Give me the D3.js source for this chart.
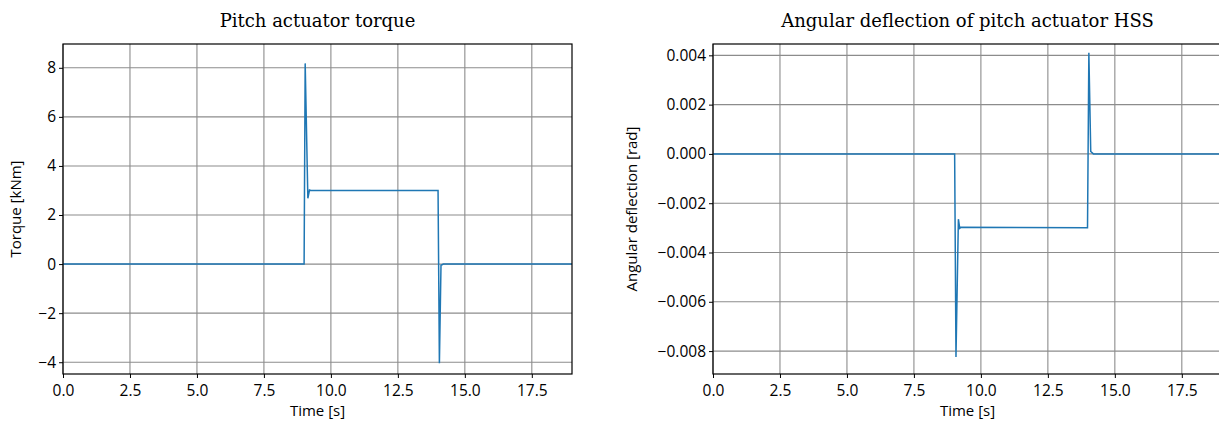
<!DOCTYPE html>
<html>
<head>
<meta charset="utf-8">
<script src="https://cdn.jsdelivr.net/npm/d3@7"></script>
<style>
  body { margin: 0; background: #fff; }
  .tick text { font-family: "Open Sans", sans-serif; font-size: 15.5px; fill: #000; }
  .title { font-family: "DejaVu Serif", serif; font-size: 18px; }
  .label { font-family: "Open Sans", sans-serif; font-size: 15px; }
</style>
</head>
<body>
<div class="chart"></div>
<script>
// torque response [kNm]
const torqueTime = [0, 9.0, 9.04, 9.14, 9.2, 9.25, 14.0, 14.05, 14.11, 14.2, 19];
const torqueVals = [0, 0, 8.18, 2.68, 3.02, 3.0, 3.0, -4.04, -0.05, 0, 0];

// angular deflection of HSS [rad]
const deflTime = [0, 9.02, 9.07, 9.16, 9.21, 9.25, 13.98, 14.03, 14.1, 14.2, 19];
const deflVals = [0, 0, -0.00824, -0.00265, -0.00302, -0.00298, -0.003, 0.0041, 0.0001, 0, 0];

const xTicks = [0, 2.5, 5, 7.5, 10, 12.5, 15, 17.5];
const torqueTicks = [-4, -2, 0, 2, 4, 6, 8];
const deflTicks = [-0.008, -0.006, -0.004, -0.002, 0, 0.002, 0.004];

const W = 1219, H = 421;
const svg = d3.select(".chart").append("svg")
    .attr("width", W)
    .attr("height", H);

const fmtMinus = s => s.replace("-", "\u2212");

function panel(opts) {
    const x = d3.scaleLinear().domain([0, 19]).range([opts.left, opts.left + 509]);
    const y = d3.scaleLinear().domain(opts.ydom).range([374, 44]);
    const g = svg.append("g");

    // grid
    g.append("g").selectAll("line")
        .data(xTicks)
        .join("line")
        .attr("x1", d => x(d)).attr("x2", d => x(d))
        .attr("y1", 44).attr("y2", 374)
        .attr("stroke", "#8c8c8c").attr("stroke-width", 1.1);
    g.append("g").selectAll("line")
        .data(opts.yticks)
        .join("line")
        .attr("x1", opts.left).attr("x2", opts.left + 509)
        .attr("y1", d => y(d)).attr("y2", d => y(d))
        .attr("stroke", "#8c8c8c").attr("stroke-width", 1.1);

    // series
    const pts = d3.zip(opts.t, opts.v);
    g.append("path")
        .datum(pts)
        .attr("fill", "none")
        .attr("stroke", "#1f77b4")
        .attr("stroke-width", 1.5)
        .attr("d", d3.line().x(d => x(d[0])).y(d => y(d[1])));

    // axes
    const xa = g.append("g").attr("transform", "translate(0,374)")
        .call(d3.axisBottom(x).tickValues(xTicks).tickFormat(d3.format(".1f")).tickSizeOuter(0).tickSize(4));
    xa.selectAll(".tick text").attr("dy", "0.95em");
    const ya = g.append("g").attr("transform", `translate(${opts.left},0)`)
        .call(d3.axisLeft(y).tickValues(opts.yticks).tickFormat(d => fmtMinus(opts.fmt(d))).tickSizeOuter(0).tickSize(4));
    g.selectAll(".domain").remove();
    g.selectAll(".tick line").attr("stroke", "#000");

    // frame
    g.append("rect")
        .attr("x", opts.left).attr("y", 44)
        .attr("width", 509).attr("height", 330)
        .attr("fill", "none").attr("stroke", "#000").attr("stroke-width", 1.2);

    g.append("text").attr("class", "title")
        .attr("x", opts.left + 254.5).attr("y", 27)
        .attr("text-anchor", "middle")
        .text(opts.title);
    g.append("text").attr("class", "label")
        .attr("x", opts.left + 254.5).attr("y", 416)
        .attr("text-anchor", "middle")
        .text("Time [s]");
    g.append("text").attr("class", "label")
        .attr("transform", `translate(${opts.ylabX},209) rotate(-90)`)
        .attr("text-anchor", "middle")
        .text(opts.ylabel);
}

panel({
    left: 63, ydom: [-4.48, 8.97], yticks: torqueTicks, t: torqueTime, v: torqueVals,
    fmt: d3.format("d"), title: "Pitch actuator torque", ylabel: "Torque [kNm]", ylabX: 21
});
panel({
    left: 713, ydom: [-0.00893, 0.00446], yticks: deflTicks, t: deflTime, v: deflVals,
    fmt: d3.format(".3f"), title: "Angular deflection of pitch actuator HSS", ylabel: "Angular deflection [rad]", ylabX: 637
});
</script>
</body>
</html>
